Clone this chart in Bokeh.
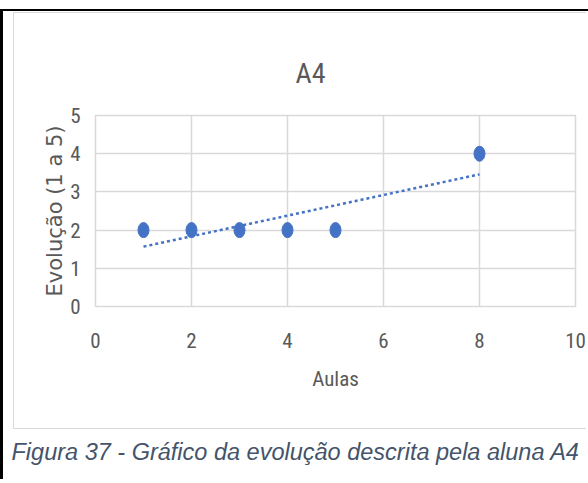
import numpy as np
from bokeh.plotting import figure
from bokeh.layouts import column
from bokeh.models import FixedTicker, Label, ColumnDataSource
from bokeh.embed import file_html
from bokeh.resources import INLINE

# Data: lesson number vs. self-described evolution (1 to 5)
aulas = [1, 2, 3, 4, 5, 8]
evolucao = [2, 2, 2, 2, 2, 4]
x_ticks = [0, 2, 4, 6, 8, 10]
y_ticks = [0, 1, 2, 3, 4, 5]

title_text = "A4"
x_title = "Aulas"
y_title = "Evolução (1 a 5)"
caption = "Figura 37 - Gráfico da evolução descrita pela aluna A4"

BLUE = "#4472C4"
GRID = "#D9D9D9"
TXT = "#595959"
NARROW = "'Liberation Sans Narrow', 'Roboto Condensed', 'DejaVu Sans Condensed', sans-serif"

# ---- chart (inside a light grey chart-area border) ----
p = figure(width=573, height=417, x_range=(0, 10), y_range=(0, 5),
           output_backend="svg", toolbar_location=None,
           min_border_left=81, min_border_right=12,
           min_border_top=102, min_border_bottom=124)
p.frame_align = False
p.margin = (1, 0, 0, 10)
p.styles = {"border-left": "1.5px solid #D9D9D9",
            "border-top": "1.5px solid #D9D9D9",
            "border-bottom": "1.5px solid #D9D9D9"}
p.background_fill_color = "white"
p.border_fill_color = "white"
p.outline_line_color = GRID
p.outline_line_width = 1.5

p.title.text = title_text
p.title.align = "left"
p.title.offset = 200
p.title.standoff = 51
p.title.text_font = NARROW
p.title.text_font_size = "28px"
p.title.text_font_style = "normal"
p.title.text_color = TXT

# grid
p.xaxis.ticker = FixedTicker(ticks=x_ticks)
p.yaxis.ticker = FixedTicker(ticks=y_ticks)
for g in (p.xgrid, p.ygrid):
    g.grid_line_color = GRID
    g.grid_line_width = 1.5

# axes
for ax in (p.xaxis, p.yaxis):
    ax.axis_line_color = None
    ax.major_tick_line_color = None
    ax.minor_tick_line_color = None
    ax.major_label_text_font = NARROW
    ax.major_label_text_font_size = "21px"
    ax.major_label_text_color = TXT
    ax.axis_label_text_color = TXT
    ax.axis_label_text_font_style = "normal"

p.xaxis.major_label_standoff = 20
p.xaxis.axis_label = x_title
p.xaxis.axis_label_text_font = NARROW
p.xaxis.axis_label_text_font_size = "21px"
p.xaxis.axis_label_standoff = 16

p.yaxis.major_label_standoff = 9
p.yaxis.axis_label = y_title
p.yaxis.axis_label_text_font = "DejaVu Sans"
p.yaxis.axis_label_text_font_size = "21px"
p.yaxis.axis_label_standoff = 0

# linear trend line (least squares over the points)
slope, intercept = np.polyfit(aulas, evolucao, 1)
tx = [min(aulas), max(aulas)]
ty = [slope * v + intercept for v in tx]
p.line(tx, ty, line_color=BLUE, line_width=2.5, line_dash="3 3")

# points
src = ColumnDataSource(dict(x=aulas, y=evolucao))
p.ellipse(x="x", y="y", width=11, height=15, width_units="screen",
          height_units="screen", source=src, fill_color=BLUE, line_color=BLUE)

# ---- caption strip under the chart ----
cap = figure(width=585, height=50, x_range=(0, 585), y_range=(0, 50),
             output_backend="svg", toolbar_location=None,
             x_axis_location=None, y_axis_location=None,
             min_border=0)
cap.frame_align = False
cap.grid.visible = False
cap.outline_line_color = None
cap.background_fill_color = "white"
cap.border_fill_color = "white"
cap.add_layout(Label(x=8, y=28, text=caption,
                     text_font="'Liberation Sans', Arial, sans-serif",
                     text_font_style="italic", text_font_size="23.5px",
                     text_color="#44546A", text_align="left",
                     text_baseline="alphabetic"))

page = column(p, cap, spacing=0,
              styles={"margin-top": "9px",
                      "border-top": "2.5px solid black",
                      "border-left": "3px solid black",
                      "background-color": "white"})

open("out.html", "w").write(file_html(page, INLINE))
